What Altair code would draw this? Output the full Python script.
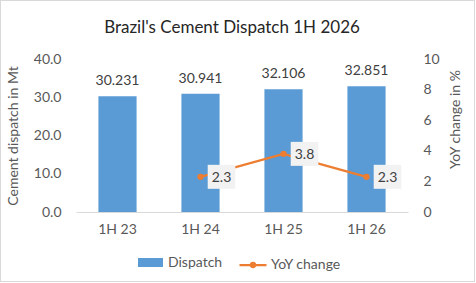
import altair as alt
import pandas as pd

# Half-year cement dispatch (million tonnes) and year-on-year change (%)
periods = ["1H 23", "1H 24", "1H 25", "1H 26"]
dispatch = [30.231, 30.941, 32.106, 32.851]
yoy = [None, 2.3, 3.8, 2.3]

df = pd.DataFrame({"period": periods, "dispatch": dispatch, "yoy": yoy})
df["dispatch_label"] = [f"{v:.3f}" for v in dispatch]
df["bar_series"] = "Dispatch"
df["line_series"] = "YoY change"
df_line = df.dropna(subset=["yoy"]).copy()
df_line["yoy_label"] = [f"{v:.1f}" for v in df_line["yoy"]]

FONT = "Lato"
BLUE = "#5B9BD5"
ORANGE = "#ED7D31"
GREY = "#595959"

x_enc = alt.X(
    "period:N",
    sort=periods,
    scale=alt.Scale(paddingInner=0.54, paddingOuter=0.27),
    axis=alt.Axis(title=None, labelAngle=0, ticks=False, domainColor="#D9D9D9",
                  labelPadding=10, labelFontSize=14, labelColor=GREY, labelFont=FONT),
)

y_left = alt.Y(
    "dispatch:Q",
    scale=alt.Scale(domain=[0, 40]),
    axis=alt.Axis(title="Cement dispatch in Mt", values=[0, 10, 20, 30, 40], format=".1f",
                  grid=False, domain=False, ticks=False, labelPadding=15,
                  labelFontSize=14, labelColor=GREY, labelFont=FONT,
                  titleFontSize=14, titleColor=GREY, titleFont=FONT, titleFontWeight="normal",
                  titlePadding=13),
)

# thin frame around the whole chart
frame = alt.Chart(df).mark_rect(filled=False, stroke="#D9D9D9", strokeWidth=1, clip=False).encode(
    x=alt.value(-75.5), x2=alt.value(398.5), y=alt.value(-58.5), y2=alt.value(222.5),
)

bars = alt.Chart(df).mark_bar(color=BLUE).encode(
    x=x_enc,
    y=y_left,
    fill=alt.Fill("bar_series:N", scale=alt.Scale(domain=["Dispatch"], range=[BLUE]),
                  legend=alt.Legend(title=None, orient="none", legendX=62, legendY=191,
                                    symbolType="M-1,-0.36L1,-0.36L1,0.36L-1,0.36Z",
                                    symbolSize=625, symbolStrokeWidth=0, labelOffset=5,
                                    labelFontSize=14, labelColor=GREY, labelFont=FONT)),
)
bar_text = alt.Chart(df).mark_text(baseline="bottom", dy=-8, fontSize=14, font=FONT, color="#404040").encode(
    x=x_enc,
    y=y_left,
    text="dispatch_label:N",
)
bar_layer = alt.layer(bars, bar_text)

y_right = alt.Y(
    "yoy:Q",
    scale=alt.Scale(domain=[0, 10]),
    axis=alt.Axis(title="YoY change in %", orient="right", values=[0, 2, 4, 6, 8, 10],
                  grid=False, domain=False, ticks=False, labelPadding=15,
                  labelFontSize=14, labelColor=GREY, labelFont=FONT,
                  titleFontSize=14, titleColor=GREY, titleFont=FONT, titleFontWeight="normal",
                  titleAngle=270, titlePadding=23, titleY=60),
)
line_symbol = "M-1,0L1,0M0.15,0A0.15,0.15,0,1,1,-0.15,0A0.15,0.15,0,1,1,0.15,0Z"
line = alt.Chart(df_line).mark_line(strokeWidth=2.25).encode(
    x=x_enc,
    y=y_right,
    stroke=alt.Stroke("line_series:N", scale=alt.Scale(domain=["YoY change"], range=[ORANGE]),
                      legend=alt.Legend(title=None, orient="none", legendX=162, legendY=191,
                                        symbolType=line_symbol, symbolSize=729,
                                        symbolStrokeWidth=2.25, symbolFillColor=ORANGE,
                                        labelOffset=3, labelFontSize=14,
                                        labelColor=GREY, labelFont=FONT)),
)
points = alt.Chart(df_line).mark_circle(size=40, color=ORANGE, opacity=1).encode(
    x=x_enc, y=y_right,
)
boxes = alt.Chart(df_line).mark_point(
    shape="M-1.15,-1L1.15,-1L1.15,1L-1.15,1Z", size=576, filled=True,
    color="#F2F2F2", opacity=1, xOffset=21,
).encode(x=x_enc, y=y_right)
line_text = alt.Chart(df_line).mark_text(fontSize=14, font=FONT, color="#404040", dx=21, dy=1).encode(
    x=x_enc, y=y_right, text="yoy_label:N",
)
line_layer = alt.layer(line, points, boxes, line_text)

chart = (
    alt.layer(frame, bar_layer, line_layer)
    .resolve_scale(y="independent")
    .properties(
        width=332,
        height=153,
        autosize=alt.AutoSizeParams(type="none"),
        padding={"left": 76, "top": 59, "right": 68, "bottom": 71},
        # the frame rect widens the group bounds, so pull the title back inside
        title=alt.Title("Brazil's Cement  Dispatch 1H 2026", fontSize=17, font=FONT,
                        fontWeight="normal", color="#262626", offset=-37, dx=-10),
    )
    .configure_view(stroke=None)
)

chart.save("out.html", embed_options={"renderer": "svg", "actions": False})
